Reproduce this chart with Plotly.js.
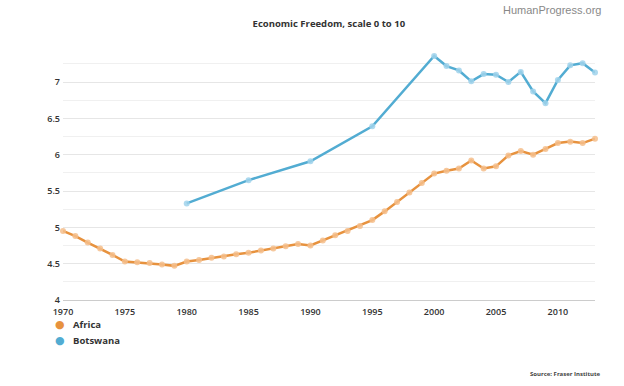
<!DOCTYPE html>
<html>
<head>
<meta charset="utf-8">
<script src="https://cdn.plot.ly/plotly-3.0.1.min.js"></script>
<style>html,body{margin:0;padding:0;background:#fff;}#chart{width:624px;height:386px;}</style>
</head>
<body>
<div id="chart"></div>
<script>
const africaYears = [1970,1971,1972,1973,1974,1975,1976,1977,1978,1979,1980,1981,1982,1983,1984,1985,1986,1987,1988,1989,1990,1991,1992,1993,1994,1995,1996,1997,1998,1999,2000,2001,2002,2003,2004,2005,2006,2007,2008,2009,2010,2011,2012,2013];
const africaValues = [4.95,4.88,4.79,4.71,4.62,4.53,4.52,4.51,4.49,4.47,4.53,4.55,4.58,4.60,4.63,4.65,4.68,4.71,4.74,4.77,4.75,4.82,4.89,4.95,5.02,5.10,5.22,5.35,5.48,5.61,5.74,5.78,5.81,5.92,5.81,5.84,5.99,6.05,6.00,6.08,6.16,6.18,6.16,6.22];
const botswanaYears = [1980,1985,1990,1995,2000,2001,2002,2003,2004,2005,2006,2007,2008,2009,2010,2011,2012,2013];
const botswanaValues = [5.33,5.65,5.91,6.39,7.36,7.22,7.16,7.01,7.11,7.10,7.00,7.14,6.87,6.71,7.03,7.23,7.26,7.13];
const yTicks = [4,4.5,5,5.5,6,6.5,7];
const yTickLabels = ['4','4.5','5','5.5','6','6.5','7'];
const xTicks = [1970,1975,1980,1985,1990,1995,2000,2005,2010];
const seriesNames = ['Africa','Botswana'];

const orange = 'rgb(231,146,62)';
const blue = 'rgb(82,172,210)';
const font = 'Open Sans, sans-serif';

const traces = [
  {x: africaYears, y: africaValues, type: 'scatter', mode: 'lines+markers', name: seriesNames[0], showlegend: false, cliponaxis: false,
   line: {color: orange, width: 2.5}, marker: {size: 6, color: 'rgba(245,190,140,0.85)'}},
  {x: botswanaYears, y: botswanaValues, type: 'scatter', mode: 'lines+markers', name: seriesNames[1], showlegend: false, cliponaxis: false,
   line: {color: blue, width: 2.5}, marker: {size: 6, color: 'rgba(160,210,235,0.85)'}}
];

function px2x(px) { return (px - 63) / 532; }
function px2y(py) { return (300 - py) / 247; }

const legendColors = [orange, blue];
const legendAnn = [];
seriesNames.forEach((n, i) => {
  const yy = 324.5 + i * 15.5;
  legendAnn.push({text: '●', xref: 'paper', yref: 'paper', x: px2x(59.5), y: px2y(yy), xanchor: 'center', yanchor: 'middle', showarrow: false,
    font: {family: 'DejaVu Sans, sans-serif', size: 11, color: legendColors[i]}});
  legendAnn.push({text: '<b>' + n + '</b>', xref: 'paper', yref: 'paper', x: px2x(71), y: px2y(yy), xanchor: 'left', yanchor: 'middle', showarrow: false,
    font: {family: font, size: 9.5, color: '#333'}});
});

const layout = {
  width: 624, height: 386,
  margin: {l: 63, r: 29, t: 53, b: 86},
  paper_bgcolor: '#fff', plot_bgcolor: '#fff',
  font: {family: font, color: '#333'},
  showlegend: false,
  title: {text: '<b>Economic Freedom, scale 0 to 10</b>', font: {family: font, size: 9.5, color: '#333'}, x: 0.527, xanchor: 'center', y: 0.938, yanchor: 'middle'},
  xaxis: {
    range: [1970, 2013], tickvals: xTicks, ticktext: xTicks.map(String),
    showgrid: false, zeroline: false, showline: true, linecolor: '#cccccc', linewidth: 1,
    ticks: '', tickfont: {family: font, size: 9, color: '#333', weight: 600}, ticklabelstandoff: 3
  },
  yaxis: {
    range: [4, 7.4], tickvals: yTicks, ticktext: yTickLabels,
    showgrid: true, gridcolor: '#e6e6e6', gridwidth: 1, zeroline: false, showline: false,
    ticks: '', tickfont: {family: font, size: 9, color: '#333', weight: 600}, ticklabelstandoff: 2,
    minor: {dtick: 0.25, tick0: 0, showgrid: true, gridcolor: '#f0f0f0', gridwidth: 1}
  },
  annotations: [
    {text: 'HumanProgress.org', xref: 'paper', yref: 'paper', x: px2x(603), y: px2y(10), xanchor: 'right', yanchor: 'middle', showarrow: false,
     font: {family: 'Liberation Sans, Arial, sans-serif', size: 11, color: '#888888'}},
    {text: '<b>Source: Fraser Institute</b>', xref: 'paper', yref: 'paper', x: px2x(603), y: px2y(374), xanchor: 'right', yanchor: 'middle', showarrow: false,
     font: {family: font, size: 6, color: '#444'}}
  ].concat(legendAnn)
};

Plotly.newPlot('chart', traces, layout, {displayModeBar: false, staticPlot: true});
</script>
</body>
</html>
